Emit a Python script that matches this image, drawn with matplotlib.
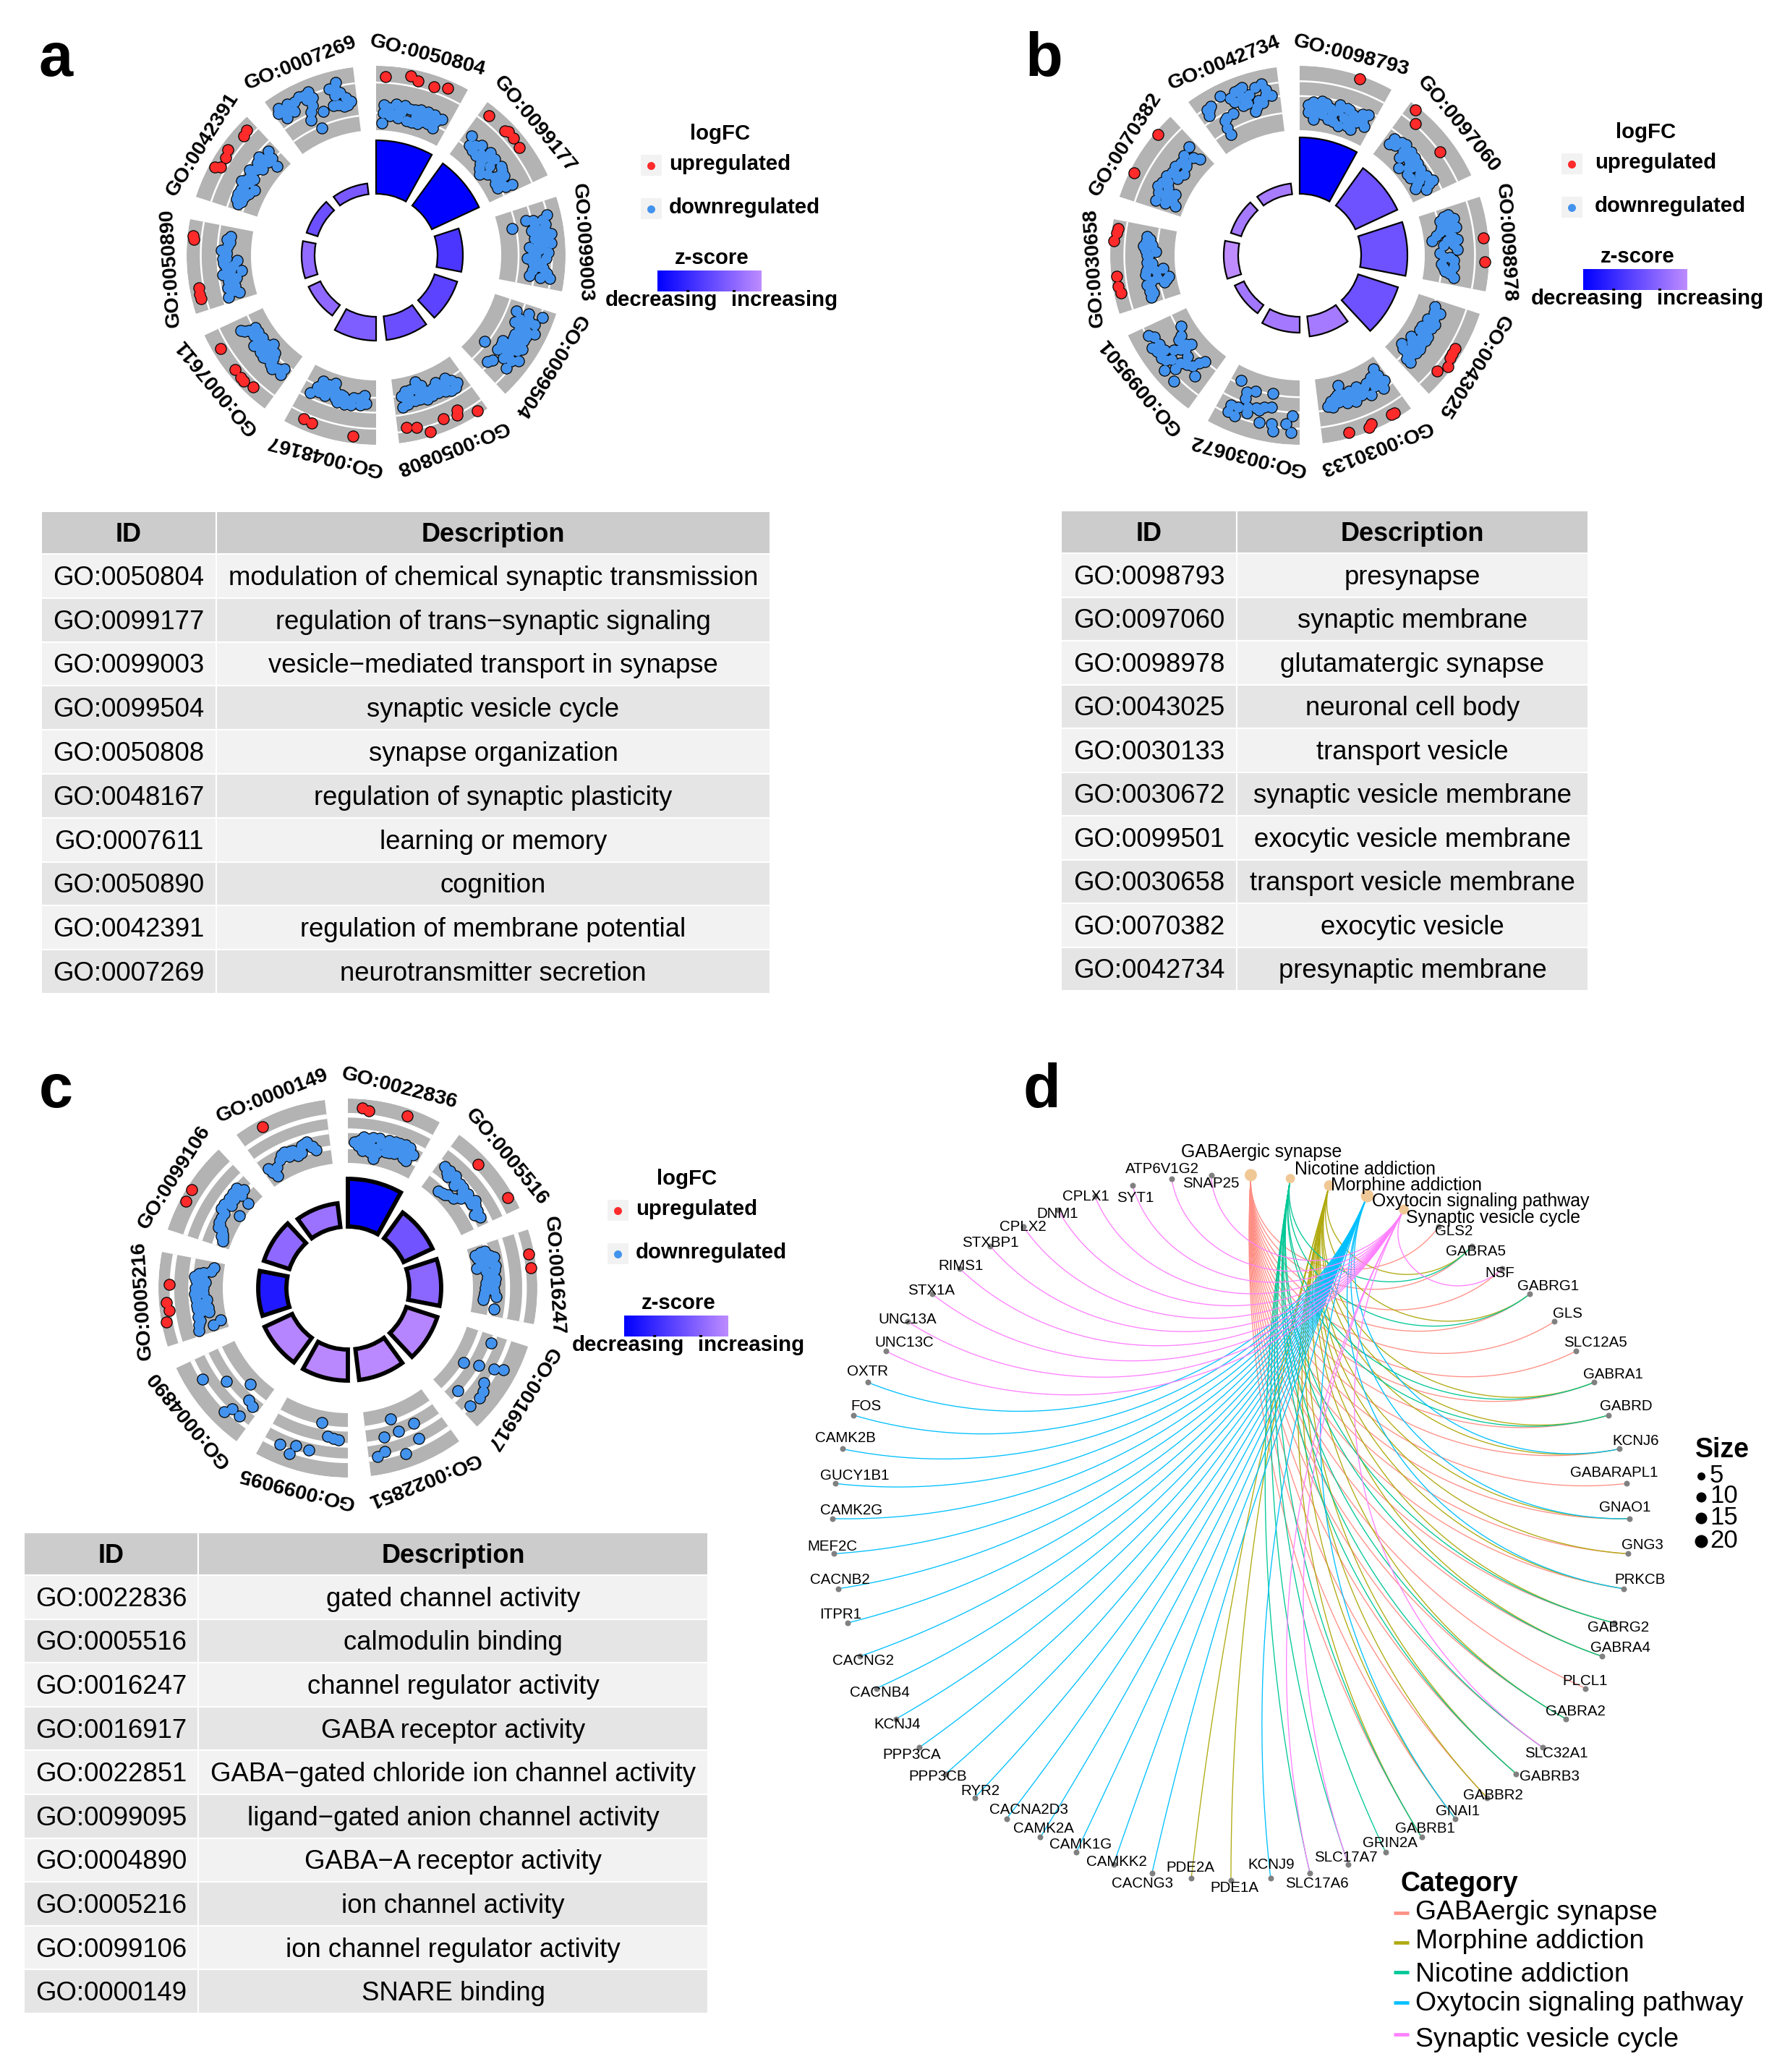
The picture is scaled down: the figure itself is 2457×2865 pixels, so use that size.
import numpy as np
import matplotlib
matplotlib.use("Agg")
import matplotlib.pyplot as plt
from matplotlib.colors import LinearSegmentedColormap
from matplotlib.patches import Rectangle

plt.rcParams["font.family"] = ["Liberation Sans", "DejaVu Sans"]

W, H = 2457, 2865

# ---- panel a ----
a_terms = ["GO:0050804", "GO:0099177", "GO:0099003", "GO:0099504", "GO:0050808",
           "GO:0048167", "GO:0007611", "GO:0050890", "GO:0042391", "GO:0007269"]
a_desc = ["modulation of chemical synaptic transmission", "regulation of trans−synaptic signaling",
          "vesicle−mediated transport in synapse", "synaptic vesicle cycle", "synapse organization",
          "regulation of synaptic plasticity", "learning or memory", "cognition",
          "regulation of membrane potential", "neurotransmitter secretion"]
a_count = [74, 72, 35, 33, 33, 33, 18, 18, 16, 15]
a_z = [0, 0, .39, .48, .56, .67, .75, .76, .57, .64]
a_grid = [[.74, .27], [.73, .25], [.27, .53, .79], [.25, .49, .78], [.27, .57, .83],
          [.27, .5, .75], [.26, .75], [.78, .52], [.75, .49, .24], [.75, .48, .24]]
a_up = [
    [(3, .84), (11, .89), (13.5, .84), (19, .82), (23.2, .88)],
    [(3, .84), (10, .84), (11, .87), (13.6, .86), (17, .84)],
    [],
    [],
    [(3, .94), (8.4, .77), (9, .84), (13.6, .8), (19, .92), (22.7, .8), (26, .77)],
    [(7.3, .89), (21, .85), (23.9, .83)],
    [(7, .85), (10.4, .89), (12, .89), (15, .87), (23, .87)],
    [(23, .9), (24, .91), (7.6, .85), (5.5, .86), (4, .86)],
    [(26, .85), (24, .83), (17.5, .88), (15, .84), (11.6, .83), (10.7, .91)],
    [],
]
a_down = [
    [(3, .4), (3, .27), (7.6, .43), (13, .39), (6.8, .26), (12.7, .2), (17.4, .2), (18.8, .36),
     (22.6, .42), (25.8, .4), (21.3, .25), (2.5, .11), (10, .32), (16, .3), (22, .3),
     (5, .36), (5.5, .24), (9, .36), (9, .22), (11, .42), (15, .4), (15, .2), (17, .42), (19, .25), (20, .42),
     (24, .33), (24, .22), (21, .33)],
    [(2.7, .43), (4.3, .3), (7.8, .43), (12.6, .21), (13.5, .39), (16, .1), (18.6, .44), (20.5, .26),
     (26.5, .44), (25, .21), (22.3, .4), (10, .32), (16, .3), (24, .3),
     (6, .36), (9, .25), (12, .44), (15, .43), (14, .15), (18, .2), (21, .33), (20, .42), (23, .22), (26, .33),
     (12, .3), (6.5, .27)],
    [(5, .44), (4.6, .78), (7.6, .73), (11, .8), (12, .53), (13, .72), (15, .44), (17, .73), (19, .4),
     (20.5, .63), (18, .54), (25.5, .46), (25.6, .78), (25.8, .63), (22.5, .66), (10, .62), (7, .56), (7, .21),
     (5.5, .55), (6, .7), (9, .68), (9, .5), (12, .65), (14.5, .58), (15, .65), (17, .5), (16, .6), (19, .7),
     (21, .5), (22, .56), (23.5, .5), (24, .72), (14, .78), (10, .72)],
    [(3.6, .4), (3, .6), (2.5, .82), (7.6, .45), (5.7, .74), (11.6, .54), (8.5, .81), (10.6, .71), (13.4, .62),
     (14.8, .75), (17, .63), (18.5, .81), (16, .43), (19.7, .44), (20.4, .2), (25.7, .45), (24, .49), (23, .73),
     (6, .5), (9, .55), (9, .68), (12, .7), (11, .62), (13, .55), (15, .55), (16, .7), (18, .52), (19, .63),
     (21, .6), (20, .72), (5, .63), (7, .62), (17.5, .45)],
    [(3.5, .4), (6.8, .25), (7, .46), (11, .24), (11.8, .4), (16, .31), (16.4, .43), (18.8, .11), (21.8, .21),
     (21, .39), (25.8, .28), (26, .45), (14, .32), (19, .35), (24, .35),
     (5, .33), (5, .45), (8, .33), (9, .43), (10, .3), (13, .3), (14, .41), (18, .3), (19, .4), (20, .22),
     (23, .3), (24, .22), (24, .42), (17, .2)],
    [(3.9, .36), (4.7, .24), (8.9, .3), (9.7, .42), (15, .42), (14, .29), (18.7, .3), (17.5, .14), (22.8, .18),
     (22.7, .36), (25.7, .42), (12, .36), (20, .38),
     (6.5, .3), (6, .4), (11, .36), (12, .42), (13, .3), (16, .36), (17, .25), (20, .27), (20, .2), (24, .3), (23, .25)],
    [(2.7, .43), (3, .33), (6.5, .45), (9, .31), (11, .39), (17.5, .42), (13, .17), (18, .23), (23, .24),
     (20.7, .33), (25, .46), (23.4, .35), (14, .32), (8, .38),
     (5, .39), (8, .41), (10, .24), (12, .3), (14, .4), (15, .25), (16, .35), (19, .3), (21, .24), (24, .42), (12, .42)],
    [(25.4, .33), (21.6, .36), (20, .46), (16.6, .44), (16, .21), (13, .35), (11.6, .16), (10.7, .46),
     (7.4, .31), (3, .25), (2, .44), (5.6, .42), (18.5, .38), (14, .4),
     (24, .38), (23, .33), (19, .38), (17, .38), (15, .43), (14, .28), (12, .33), (10, .38), (9, .25), (8, .38),
     (6, .3), (4, .33)],
    [(26, .38), (24, .12), (22, .43), (19, .27), (16, .43), (14, .29), (11, .45), (8, .4), (10, .2), (4, .4),
     (3.7, .3), (7.8, .25), (24, .33), (17, .36), (12, .33),
     (25, .27), (23, .27), (21, .35), (20, .4), (18, .33), (15, .37), (12.5, .38), (9.5, .38), (6, .3), (6, .4),
     (5, .35), (2.5, .35), (22, .36)],
    [(22.8, .81), (20.2, .74), (23.5, .65), (26.7, .48), (24, .42), (20, .48), (16, .44), (13, .2), (10.4, .39),
     (13, .58), (13.4, .81), (10, .8), (6.4, .63), (5.5, .78), (2.4, .8), (3, .6), (12, .7),
     (22, .72), (21.5, .62), (25, .55), (25.5, .43), (22, .47), (14, .7), (12, .78), (8, .75), (5, .68), (4, .72),
     (1.5, .73), (11.5, .5)],
]

# ---- panel b ----
b_terms = ["GO:0098793", "GO:0097060", "GO:0098978", "GO:0043025", "GO:0030133",
           "GO:0030672", "GO:0099501", "GO:0030658", "GO:0070382", "GO:0042734"]
b_desc = ["presynapse", "synaptic membrane", "glutamatergic synapse", "neuronal cell body", "transport vesicle",
          "synaptic vesicle membrane", "exocytic vesicle membrane", "transport vesicle membrane",
          "exocytic vesicle", "presynaptic membrane"]
b_count = [78, 64, 64, 58, 28, 22, 14, 20, 15, 15]
b_z = [0, .58, .58, .58, .87, .86, .85, 1, .87, .88]
b_grid = [[.76, .53], [.76, .49], [.78, .27], [.78, .28], [.75, .5], [.26, .5, .75], [.26, .74],
          [.78, .27], [.75], [.76, .55, .28]]
b_up = [
    [(18.8, .95)],
    [(2.5, .94), (5.3, .78), (17.6, .76)],
    [(12.6, .92), (20, .93)],
    [(13, .87), (14.8, .88), (16.3, .89), (19, .94), (22, .85)],
    [(5, .91), (6, .91), (13, .9), (14, .94), (20.5, .91)],
    [],
    [],
    [(26.4, .91), (25, .92), (22.5, .95), (11.5, .92), (8.3, .92), (6.1, .89)],
    [(22.3, .95), (8.5, .93)],
    [],
]
b_down = [
    [(3.3, .4), (3.5, .29), (8.3, .47), (5.8, .18), (11.7, .21), (15, .48), (16.6, .15), (22, .16), (26.5, .29),
     (26, .48), (21, .39), (17.8, .3), (12, .39), (6, .4), (9, .33), (24, .37), (18, .45),
     (4, .34), (5, .45), (10, .45), (7, .3), (9, .27), (13, .3), (15, .38), (14, .2), (19, .45), (20, .28),
     (20, .2), (23, .3), (24, .45), (25, .36)],
    [(2.8, .28), (3, .39), (8, .44), (9.6, .22), (13.8, .4), (12.5, .11), (19, .15), (18.5, .36), (26.5, .27),
     (24.5, .43), (24, .13), (11, .32), (16, .28), (21, .3), (22, .24),
     (5, .32), (6, .42), (9, .33), (11, .42), (13, .3), (15, .22), (16, .38), (17, .15), (20, .3), (22, .38),
     (23, .18), (25, .35)],
    [(2.7, .44), (4.5, .52), (4.4, .3), (8.6, .27), (7.8, .52), (11.8, .13), (12.4, .36), (12.2, .52), (17, .24),
     (16, .51), (18.8, .39), (21.5, .26), (22.3, .46), (26.3, .47), (24.2, .33), (5, .4), (9, .4),
     (3, .37), (6, .47), (7, .3), (8, .4), (10, .2), (11, .45), (14, .3), (14, .45), (19, .3), (20, .45),
     (24, .42), (25, .4), (23, .3)],
    [(2.8, .3), (4.7, .42), (8.4, .28), (9, .42), (14, .25), (14.6, .42), (22.9, .15), (19.5, .25), (18.8, .4),
     (24, .3), (26, .45), (22, .42), (6, .35), (12, .33), (17, .33),
     (5, .33), (7, .36), (10, .33), (11, .4), (12, .25), (15, .33), (16, .42), (18, .2), (21, .3), (20, .42),
     (24, .38), (24, .22), (26, .37)],
    [(3, .16), (4, .36), (3.8, .5), (8.7, .3), (8.8, .49), (12.8, .28), (15, .49), (19, .31), (19.6, .17), (23.6, .47),
     (25.5, .45), (22, .34), (6, .25), (11, .4), (17, .4), (20, .4), (3, .28),
     (2, .4), (3.5, .43), (6, .4), (6, .3), (10, .35), (12, .43), (14, .35), (16, .3), (18, .47), (21, .3),
     (24, .38), (21, .42)],
    [(2.8, .81), (4.7, .68), (2.6, .55), (9.5, .71), (8.7, .82), (11, .24), (10.5, .46), (13.6, .73), (14.7, .54),
     (21, .33), (18, .28), (20.8, .43), (18.5, .64), (25, .2), (24.7, .62), (24.6, .73), (22, .75), (16, .52),
     (13, .48), (19, .55), (22, .6)],
    [(5.7, .27), (5, .54), (8, .45), (9, .82), (11.6, .67), (13.6, .81), (14.6, .24), (15.8, .42), (23, .2), (19, .35),
     (17.4, .73), (19, .62), (22, .76), (21.6, .64), (26, .71), (24.6, .65), (12, .55), (17, .5),
     (7, .34), (10, .5), (12, .4), (14.5, .36), (16, .3), (20, .28), (15, .62), (16, .7), (20, .72)],
    [(24, .4), (21.4, .49), (19.4, .29), (15.3, .43), (12.6, .19), (10.8, .47), (9, .12), (6.8, .2), (7, .47), (2.2, .45),
     (11.7, .3), (18, .4), (25, .45), (4.5, .45), (13, .42),
     (23, .45), (20, .45), (18, .43), (15, .35), (13, .35), (12, .45), (8, .4), (5, .42), (8, .16), (9, .3),
     (3.5, .4), (22, .35)],
    [(26.4, .46), (22.8, .43), (26, .21), (17.6, .43), (17, .25), (12.9, .46), (8, .51), (3, .45), (6, .36), (8, .21),
     (3.6, .13), (9, .35), (5, .25), (21, .33), (15, .36),
     (24.5, .3), (20, .4), (20, .3), (15, .42), (14, .3), (11, .4), (10, .48), (6, .46), (5, .32), (5, .2),
     (3, .3), (7, .28)],
    [(23.4, .79), (26, .58), (22.4, .49), (19, .39), (17, .81), (18.5, .67), (14.3, .79), (15.4, .54), (11, .49),
     (9.5, .82), (7, .45), (6.4, .21), (5, .75), (3, .64), (24.5, .68), (16, .67), (4, .7),
     (24, .6), (21, .55), (21, .75), (16, .8), (17, .55), (13, .65), (8, .47), (6.5, .33), (3.5, .74), (20, .45), (12, .72)],
]

# ---- panel c ----
c_terms = ["GO:0022836", "GO:0005516", "GO:0016247", "GO:0016917", "GO:0022851",
           "GO:0099095", "GO:0004890", "GO:0005216", "GO:0099106", "GO:0000149"]
c_desc = ["gated channel activity", "calmodulin binding", "channel regulator activity", "GABA receptor activity",
          "GABA−gated chloride ion channel activity", "ligand−gated anion channel activity",
          "GABA−A receptor activity", "ion channel activity", "ion channel regulator activity", "SNARE binding"]
c_count = [66, 44, 44, 45, 43, 43, 42, 39, 37, 33]
c_z = [0, .59, .73, .95, .98, .97, .95, .17, .75, .81]
c_grid = [[.74, .5, .25], [.74, .5, .25], [.8, .54, .29], [.69, .46, .22], [.74, .5, .25],
          [.74, .5, .25], [.72, .48, .25], [.79, .5], [.71, .47, .24], [.74, .5, .25]]
c_up = [
    [(4.6, .86), (6.7, .83), (19, .89)],
    [(10.5, .84), (24.5, .91)],
    [(7.4, .91), (11.7, .92)],
    [], [], [], [],
    [(19.2, .83), (13.4, .89), (10.8, .85), (7.4, .93)],
    [(14.2, .92), (10.2, .91)],
    [(8, .89)],
]
c_down = [
    [(4.5, .36), (4, .28), (7.7, .39), (9.6, .43), (11, .11), (15.6, .44), (15.5, .25), (19.8, .45), (19, .27), (23.9, .44),
     (24.4, .23), (11, .26), (6, .3), (13, .35), (17.5, .35), (22, .34),
     (6, .42), (6, .2), (9, .3), (9, .2), (12, .43), (12, .2), (15, .35), (17, .25), (18, .44), (20, .33), (22, .45),
     (24, .35), (26, .36), (23, .25), (2.5, .33)],
    [(2.6, .47), (4.7, .42), (7.9, .47), (10, .35), (12.8, .43), (7, .11), (13.7, .21), (18, .39), (21, .42), (25.8, .39),
     (15, .37), (10, .15),
     (5, .47), (6, .38), (9, .42), (11, .43), (14, .38), (15.5, .3), (16, .42), (20, .38), (19.5, .45), (23, .4), (24, .33),
     (9, .13), (11, .18)],
    [(3.7, .1), (4, .25), (6, .38), (9.4, .08), (7.6, .22), (9.4, .38), (13.9, .23), (14.4, .35), (18, .19), (21.7, .17),
     (21.4, .36), (26.2, .35), (18, .32), (11, .22),
     (5, .12), (3, .18), (5, .32), (6, .15), (8, .15), (8, .32), (11, .35), (12, .3), (16, .2), (16, .34), (19, .33),
     (20, .18), (23, .17), (3, .25)],
    [(3, .44), (14.8, .19), (12.6, .42), (11, .65), (9.7, .79), (17, .63), (19.4, .7), (22, .72), (25, .39), (26, .69)],
    [(10.8, .64), (10, .39), (18, .19), (16.5, .42), (22.4, .44), (16.7, .78), (23.3, .66), (26, .71)],
    [(10.9, .19), (7.8, .38), (3.5, .42), (5.5, .4), (13.5, .65), (18.3, .64), (19.5, .79), (23.5, .7)],
    [(9.4, .19), (16.5, .44), (21.9, .72), (5.5, .38), (2.8, .42), (7.8, .65), (9, .78), (4.3, .67)],
    [(26.6, .16), (22.3, .45), (20.3, .27), (15.8, .44), (13.3, .26), (11.4, .42), (8.3, .25), (5.6, .4), (2, .46), (2.7, .22),
     (4, .1), (24, .32), (18, .36), (9, .35), (23.5, .38),
     (25, .2), (24, .3), (21, .42), (21, .3), (18, .43), (18, .3), (14, .42), (16, .3), (12, .3), (10, .42), (7, .42),
     (10, .25), (4, .44)],
    [(25.4, .28), (22.3, .09), (21.5, .37), (16, .38), (15.7, .08), (11, .3), (6.6, .21), (2.6, .13), (17.3, .27), (24, .38),
     (8.5, .28), (4.5, .18), (19, .33),
     (24, .33), (23, .25), (19, .37), (18, .3), (14, .38), (13, .3), (9, .3), (7, .28), (5, .17), (4, .15), (20, .3)],
    [(23, .26), (20.2, .42), (15.2, .25), (11, .39), (8.2, .31), (2.3, .28), (4, .11), (14.2, .36), (21.5, .32), (18, .38),
     (5.5, .23), (12, .29),
     (22, .33), (19, .4), (16, .3), (13, .36), (10, .33), (9.5, .37), (3, .2), (17, .28)],
]

# ---- panel d ----
cat_names = ["GABAergic synapse", "Nicotine addiction", "Morphine addiction",
             "Oxytocin signaling pathway", "Synaptic vesicle cycle"]
legend_names = ["GABAergic synapse", "Morphine addiction", "Nicotine addiction",
                "Oxytocin signaling pathway", "Synaptic vesicle cycle"]
gene_order = ["GLS2", "GABRA5", "NSF", "GABRG1", "GLS", "SLC12A5", "GABRA1", "GABRD", "KCNJ6", "GABARAPL1", "GNAO1",
              "GNG3", "PRKCB", "GABRG2", "GABRA4", "PLCL1", "GABRA2", "SLC32A1", "GABRB3", "GABBR2", "GNAI1", "GABRB1",
              "GRIN2A", "SLC17A7", "SLC17A6", "KCNJ9", "PDE1A", "PDE2A", "CACNG3", "CAMKK2", "CAMK1G", "CAMK2A",
              "CACNA2D3", "RYR2", "PPP3CB", "PPP3CA", "KCNJ4", "CACNB4", "CACNG2", "ITPR1", "CACNB2", "MEF2C", "CAMK2G",
              "GUCY1B1", "CAMK2B", "FOS", "OXTR", "UNC13C", "UNC13A", "STX1A", "RIMS1", "STXBP1", "CPLX2", "DNM1",
              "CPLX1", "SYT1", "ATP6V1G2", "SNAP25"]
gaba_genes = ["GLS2", "GABRA5", "NSF", "GABRG1", "GLS", "SLC12A5", "GABRA1", "GABRD", "KCNJ6", "GABARAPL1", "GNAO1",
              "GNG3", "PRKCB", "GABRG2", "GABRA4", "PLCL1", "GABRA2", "SLC32A1", "GABRB3", "GABBR2", "GNAI1", "GABRB1"]
morphine_genes = ["GABRA5", "GABRG1", "GABRA1", "GABRD", "KCNJ6", "GNAO1", "GNG3", "PRKCB", "GABRG2", "GABRA4",
                  "GABRA2", "GABRB3", "GABBR2", "GNAI1", "GABRB1", "PDE1A", "PDE2A"]
nicotine_genes = ["GABRA5", "GABRG1", "GABRA1", "GABRD", "GABRG2", "GABRA4", "GABRA2", "GABRB3", "GABRB1", "GRIN2A",
                  "SLC17A7", "SLC17A6", "SLC32A1"]
oxytocin_genes = ["KCNJ6", "GNAO1", "PRKCB", "GNAI1", "KCNJ9", "CACNG3", "CAMKK2", "CAMK1G", "CAMK2A", "CACNA2D3",
                  "RYR2", "PPP3CB", "PPP3CA", "KCNJ4", "CACNB4", "CACNG2", "ITPR1", "CACNB2", "MEF2C", "CAMK2G",
                  "GUCY1B1", "CAMK2B", "FOS", "OXTR"]
synaptic_genes = ["NSF", "SLC32A1", "SLC17A7", "SLC17A6", "UNC13C", "UNC13A", "STX1A", "RIMS1", "STXBP1", "CPLX2",
                  "DNM1", "CPLX1", "SYT1", "ATP6V1G2", "SNAP25"]
size_values = [5, 10, 15, 20]

# repelled label spots for panel d, in figure pixels
gene_label_x = [2010, 2040, 2074, 2141, 2167, 2206, 2230, 2248, 2262, 2232, 2247, 2271, 2268, 2238, 2241, 2192, 2178, 2152,
                2142, 2064, 2016, 1970, 1922, 1861, 1821, 1758, 1707, 1646, 1579, 1544, 1494, 1443, 1422, 1355, 1297, 1261,
                1241, 1216, 1194, 1162, 1161, 1151, 1177, 1182, 1169, 1197, 1199, 1250, 1255, 1288, 1329, 1369, 1414, 1462,
                1501, 1570, 1607, 1674]
gene_label_y = [1702, 1730, 1761, 1778, 1816, 1857, 1900, 1945, 1993, 2037, 2084, 2137, 2185, 2251, 2279, 2324, 2366, 2424,
                2457, 2482, 2504, 2529, 2549, 2568, 2605, 2579, 2611, 2582, 2604, 2574, 2550, 2529, 2503, 2477, 2457, 2426,
                2384, 2341, 2296, 2233, 2185, 2138, 2088, 2040, 1989, 1945, 1897, 1856, 1825, 1785, 1750, 1719, 1696, 1679,
                1654, 1656, 1617, 1636]
cat_label_x = [1744, 1887, 1945, 2047, 2065]
cat_label_y = [1591, 1615, 1637, 1659, 1682]

# ---- style ----
zcmap = LinearSegmentedColormap.from_list("zs", ["#0000FF", "#BE8CFF"])
edge_colors = {"GABAergic synapse": "#FF8F85", "Morphine addiction": "#B0AA10", "Nicotine addiction": "#00C896",
               "Oxytocin signaling pathway": "#00C0FF", "Synaptic vesicle cycle": "#FF80FF"}
RING_IN, RING_OUT = 173, 262
BAR_IN = 85


def dia(px):
    # marker size from a diameter in figure pixels
    return (px * 0.72) ** 2


fig = plt.figure(figsize=(W / 100, H / 100), dpi=100, facecolor="white")


def circle_panel(cx, cy, terms, count, zval, grid, up, down, bar_lw, grid_lw):
    R = RING_OUT
    ax = fig.add_axes([(cx - R) / W, 1 - (cy + R) / H, 2 * R / W, 2 * R / H], projection="polar")
    ax.set_theta_zero_location("N")
    ax.set_theta_direction(-1)
    ax.set_ylim(0, R)
    ax.set_axis_off()
    span = np.radians(29)
    for i, term in enumerate(terms):
        start = np.radians(36 * i)
        mid = start + span / 2
        ax.bar(mid, RING_OUT - RING_IN, width=span, bottom=RING_IN, color="#B3B3B3", linewidth=0, zorder=1)
        arc = np.linspace(start, start + span, 40)
        for v in grid[i]:
            ax.plot(arc, np.full(40, RING_IN + v * (RING_OUT - RING_IN)), color="white", lw=grid_lw, zorder=2,
                    solid_capstyle="butt")
        ax.bar(mid, count[i], width=span, bottom=BAR_IN, color=zcmap(float(zval[i])), edgecolor="black",
               linewidth=bar_lw, zorder=3, clip_on=False)
        for pts, col in ((up[i], "#FF2B2B"), (down[i], "#4393EE")):
            if not pts:
                continue
            th = start + np.radians([p[0] for p in pts])
            rr = RING_IN + np.array([p[1] for p in pts]) * (RING_OUT - RING_IN)
            ax.scatter(th, rr, s=dia(16.5), c="black", linewidths=0, zorder=4, clip_on=False)
            ax.scatter(th, rr, s=dia(14), c=col, linewidths=0, zorder=5, clip_on=False)
        ax.text(mid, 285, term, rotation=-np.degrees(mid), rotation_mode="anchor", ha="center", va="center",
                fontsize=20.5, fontweight="bold", clip_on=False)
    return ax


circle_panel(520, 353, a_terms, a_count, a_z, a_grid, a_up, a_down, 1.6, 1.8)
circle_panel(1797, 353, b_terms, b_count, b_z, b_grid, b_up, b_down, 1.6, 1.8)
circle_panel(481, 1781, c_terms, c_count, c_z, c_grid, c_up, c_down, 4.2, 4.6)

# ---- panel d graph, circle layout on the unit circle ----
cx_d, cy_d, rx_d, ry_d = 1702, 2112, 551, 487.8
axd = fig.add_axes([(cx_d - rx_d) / W, 1 - (cy_d + ry_d) / H, 2 * rx_d / W, 2 * ry_d / H])
axd.set_xlim(-1, 1)
axd.set_ylim(-1, 1)
axd.set_axis_off()
all_nodes = cat_names + gene_order
angles = np.radians(180 / len(all_nodes) + 360 / len(all_nodes) * np.arange(len(all_nodes)))
node_xy = {n: np.array([np.sin(a), np.cos(a)]) for n, a in zip(all_nodes, angles)}
members = {"GABAergic synapse": gaba_genes, "Morphine addiction": morphine_genes, "Nicotine addiction": nicotine_genes,
           "Oxytocin signaling pathway": oxytocin_genes, "Synaptic vesicle cycle": synaptic_genes}


def edge_arc(p0, p1, n=80):
    # arc meeting the layout circle at right angles, so edges leave the node radially
    d = 1 + p0 @ p1
    if d < 1e-3:
        return np.linspace(p0[0], p1[0], n), np.linspace(p0[1], p1[1], n)
    c = (p0 + p1) / d
    r = np.sqrt(c @ c - 1)
    a0 = np.arctan2(*(p0 - c)[::-1])
    a1 = np.arctan2(*(p1 - c)[::-1])
    turn = (a1 - a0 + np.pi) % (2 * np.pi) - np.pi
    t = a0 + turn * np.linspace(0, 1, n)
    return c[0] + r * np.cos(t), c[1] + r * np.sin(t)


for name in legend_names:
    for gene in members[name]:
        ex, ey = edge_arc(node_xy[name], node_xy[gene])
        axd.plot(ex, ey, color=edge_colors[name], lw=0.95, clip_on=False, zorder=2)
gx = [node_xy[g][0] for g in gene_order]
gy = [node_xy[g][1] for g in gene_order]
axd.scatter(gx, gy, s=dia(8), c="#808080", linewidths=0, zorder=3, clip_on=False)
cat_size = [7 + 0.45 * len(members[n]) for n in cat_names]
axd.scatter([node_xy[n][0] for n in cat_names], [node_xy[n][1] for n in cat_names],
            s=[dia(d) for d in cat_size], c="#F0C896", linewidths=0, zorder=3, clip_on=False)

# ---- overlay in figure pixels: tables, legends, panel letters ----
ov = fig.add_axes([0, 0, 1, 1], facecolor="none")
ov.set_xlim(0, W)
ov.set_ylim(H, 0)
ov.set_axis_off()

for gene, x, y in zip(gene_order, gene_label_x, gene_label_y):
    ov.text(x, y, gene, fontsize=14.8, ha="center", va="center")
for name, x, y in zip(cat_names, cat_label_x, cat_label_y):
    ov.text(x, y + 2, name, fontsize=17.9, ha="center", va="center")

for letter, x, y in (("a", 77, 83), ("b", 1443, 83), ("c", 77, 1509), ("d", 1440, 1509)):
    ov.text(x, y, letter, fontsize=61, fontweight="bold", ha="center", va="center")


def draw_table(x0, xs, x1, y0, y1, ids, desc):
    head = 59
    row_h = (y1 - y0 - head) / len(ids)
    for left, right, txt in ((x0, xs, "ID"), (xs, x1, "Description")):
        ov.add_patch(Rectangle((left, y0), right - left, head, fc="#CCCCCC", ec="white", lw=1.5))
        ov.text((left + right) / 2, y0 + head / 2 + 3, txt, fontsize=26, fontweight="bold", ha="center", va="center")
    for i, (a, b) in enumerate(zip(ids, desc)):
        top = y0 + head + i * row_h
        col = "#F2F2F2" if i % 2 == 0 else "#E5E5E5"
        ov.add_patch(Rectangle((x0, top), xs - x0, row_h, fc=col, ec="white", lw=1.5))
        ov.add_patch(Rectangle((xs, top), x1 - xs, row_h, fc=col, ec="white", lw=1.5))
        ov.text((x0 + xs) / 2, top + row_h / 2 + 3, a, fontsize=26.3, ha="center", va="center")
        ov.text((xs + x1) / 2, top + row_h / 2 + 3, b, fontsize=26.3, ha="center", va="center")


draw_table(57, 299, 1065, 707, 1374, a_terms, a_desc)
draw_table(1467, 1710, 2196, 706, 1370, b_terms, b_desc)
draw_table(33, 274, 979, 2119, 2784, c_terms, c_desc)


def circ_legend(dx, dy, key_dx):
    ov.text(996 + dx, 185 + dy, "logFC", fontsize=21.2, fontweight="bold", ha="center", va="center")
    for y, col, lab in ((229, "#FF2B2B", "upregulated"), (289, "#4393EE", "downregulated")):
        ov.add_patch(Rectangle((886 + key_dx, y - 15 + dy), 29, 29, fc="#F2F2F2", ec="none"))
        ov.scatter([900 + key_dx], [y + dy], s=dia(11), c=col, linewidths=0)
        ov.text(925 + dx, y - 2 + dy, lab, fontsize=21.2, fontweight="bold", ha="left", va="center")
    ov.text(984 + dx, 357 + dy, "z-score", fontsize=21.2, fontweight="bold", ha="center", va="center")
    ov.imshow(np.linspace(0, 1, 256)[None, :], cmap=zcmap, aspect="auto",
              extent=(909 + dx, 1053 + dx, 403 + dy, 374 + dy))
    ov.text(992 + dx, 415 + dy, "decreasing", fontsize=21.2, fontweight="bold", ha="right", va="center")
    ov.text(1011 + dx, 415 + dy, "increasing", fontsize=21.2, fontweight="bold", ha="left", va="center")


circ_legend(0, 0, 0)
circ_legend(1280, -2, 1273)
circ_legend(-46, 1445, -46)
ov.set_xlim(0, W)
ov.set_ylim(H, 0)

# category and size legends of panel d
ov.text(1936, 2605, "Category", fontsize=27, fontweight="bold", ha="left", va="center")
for name, yl, yt in zip(legend_names, [2645, 2686, 2727, 2769, 2813], [2641, 2681, 2727, 2768, 2818]):
    ov.plot([1927, 1948], [yl, yl], color=edge_colors[name], lw=3.4, solid_capstyle="butt")
    ov.text(1957, yt + 3, name, fontsize=26.9, ha="left", va="center")
ov.text(2344, 2005, "Size", fontsize=27, fontweight="bold", ha="left", va="center")
for val, yd, yt, d in zip(size_values, [2041, 2070, 2099, 2131], [2038, 2066, 2096, 2127], [11, 14, 16, 18]):
    ov.scatter([2352], [yd], s=dia(d), c="black", linewidths=0)
    ov.text(2364, yt + 3, str(val), fontsize=25, ha="left", va="center")

fig.savefig("out.png", dpi=100, facecolor="white")
